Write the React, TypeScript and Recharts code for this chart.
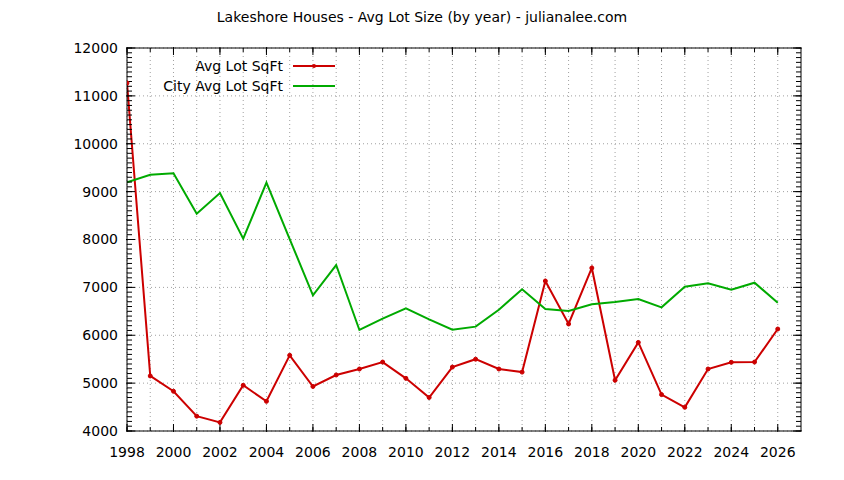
import React from "react";
import { LineChart, Line, XAxis, YAxis, CartesianGrid } from "recharts";

const years = [
  1998, 1999, 2000, 2001, 2002, 2003, 2004, 2005, 2006, 2007, 2008, 2009, 2010,
  2011, 2012, 2013, 2014, 2015, 2016, 2017, 2018, 2019, 2020, 2021, 2022, 2023,
  2024, 2025, 2026,
];
const avgLot = [
  11270, 5150, 4830, 4310, 4180, 4955, 4620, 5580, 4930, 5170, 5295, 5440, 5100,
  4700, 5335, 5500, 5295, 5230, 7133, 6235, 7405, 5060, 5850, 4760, 4495, 5295,
  5435, 5440, 6130,
];
const cityAvgLot = [
  9195, 9354, 9382, 8540, 8970, 8017, 9187, 8010, 6834, 7467, 6110, 6346, 6563,
  6333, 6116, 6180, 6534, 6960, 6548, 6506, 6646, 6694, 6757, 6583, 7015, 7084,
  6952, 7098, 6680,
];
const xMajorTicks = [
  1998, 2000, 2002, 2004, 2006, 2008, 2010, 2012, 2014, 2016, 2018, 2020, 2022,
  2024, 2026,
];
const xMinorTicks = years;
const yMajorTicks = [4000, 5000, 6000, 7000, 8000, 9000, 10000, 11000, 12000];
const yMinorTicks: number[] = [];
for (let v = 4000; v <= 12000; v += 100) yMinorTicks.push(v);

const seriesNames = ["Avg Lot SqFt", "City Avg Lot SqFt"];
const seriesColors = ["#cc0000", "#00aa00"];

const data = years.map((y, i) => ({
  year: y,
  avg: avgLot[i],
  city: cityAvgLot[i],
}));

const FONT = "'DejaVu Sans', sans-serif";
const X_DOMAIN: [number, number] = [1998, 2027];
const Y_DOMAIN: [number, number] = [4000, 12000];

const EmptyTick = () => <g />;

const LegendBox = () => (
  <svg width={260} height={44} style={{ display: "block" }}>
    {seriesNames.map((name, i) => (
      <g key={name}>
        <text
          x={156}
          y={8 + i * 20}
          textAnchor="end"
          dominantBaseline="central"
          fontFamily={FONT}
          fontSize={14}
          fill="#000"
        >
          {name}
        </text>
        <line
          x1={166}
          x2={208}
          y1={8 + i * 20}
          y2={8 + i * 20}
          stroke={seriesColors[i]}
          strokeWidth={2}
        />
        {i === 0 && <circle cx={187} cy={8} r={2} fill={seriesColors[0]} />}
      </g>
    ))}
  </svg>
);

export default function App() {
  const tickStyle = { fontFamily: FONT, fontSize: 14, fill: "#000" };
  const common = {
    type: "number" as const,
    allowDataOverflow: true,
    interval: 0 as const,
  };
  const TL = { stroke: "#000", strokeWidth: 1 };
  return (
    <div
      style={{
        position: "absolute",
        left: 0,
        top: 0,
        width: 844,
        height: 480,
        background: "#fff",
      }}
    >
      <div
        style={{
          position: "absolute",
          left: 0,
          top: 9,
          width: 844,
          textAlign: "center",
          fontFamily: FONT,
          fontSize: 14,
          color: "#000",
        }}
      >
        Lakeshore Houses - Avg Lot Size (by year) - julianalee.com
      </div>
      <LineChart
        width={844}
        height={480}
        data={data}
        margin={{ top: 46, right: 41, left: 0, bottom: 0 }}
        style={{ position: "absolute", left: 0, top: 0 }}
      >
        <CartesianGrid
          xAxisId="b_main"
          yAxisId="b_main"
          stroke="#a0a0a0"
          strokeDasharray="1 3"
          strokeWidth={1}
          horizontalValues={yMajorTicks}
          verticalValues={xMinorTicks}
        />
        <XAxis
          {...common}
          xAxisId="a_minor"
          dataKey="year"
          domain={X_DOMAIN}
          ticks={xMinorTicks}
          height={1}
          tickSize={-4}
          axisLine={{ stroke: "#000", strokeWidth: 1 }}
          tickLine={TL}
          tick={EmptyTick}
        />
        <XAxis
          {...common}
          xAxisId="b_main"
          dataKey="year"
          domain={X_DOMAIN}
          ticks={xMajorTicks}
          height={48}
          tickSize={-8}
          tickMargin={23}
          axisLine={false}
          tickLine={TL}
          tick={tickStyle}
        />
        <XAxis
          {...common}
          xAxisId="c_topMinor"
          orientation="top"
          dataKey="year"
          domain={X_DOMAIN}
          ticks={xMinorTicks}
          height={1}
          tickSize={-4}
          axisLine={{ stroke: "#000", strokeWidth: 1 }}
          tickLine={TL}
          tick={EmptyTick}
        />
        <XAxis
          {...common}
          xAxisId="d_top"
          orientation="top"
          dataKey="year"
          domain={X_DOMAIN}
          ticks={xMajorTicks}
          height={1}
          tickSize={-8}
          axisLine={false}
          tickLine={TL}
          tick={EmptyTick}
        />
        <YAxis
          {...common}
          yAxisId="a_minor"
          domain={Y_DOMAIN}
          ticks={yMinorTicks}
          width={1}
          tickSize={-5}
          axisLine={{ stroke: "#000", strokeWidth: 1 }}
          tickLine={TL}
          tick={EmptyTick}
        />
        <YAxis
          {...common}
          yAxisId="b_main"
          domain={Y_DOMAIN}
          ticks={yMajorTicks}
          width={126}
          tickSize={-9}
          tickMargin={17}
          axisLine={false}
          tickLine={TL}
          tick={tickStyle}
        />
        <YAxis
          {...common}
          yAxisId="c_rightMinor"
          orientation="right"
          domain={Y_DOMAIN}
          ticks={yMinorTicks}
          width={1}
          tickSize={-5}
          axisLine={{ stroke: "#000", strokeWidth: 1 }}
          tickLine={TL}
          tick={EmptyTick}
        />
        <YAxis
          {...common}
          yAxisId="d_right"
          orientation="right"
          domain={Y_DOMAIN}
          ticks={yMajorTicks}
          width={1}
          tickSize={-9}
          axisLine={false}
          tickLine={TL}
          tick={EmptyTick}
        />
        <Line
          xAxisId="a_minor"
          yAxisId="a_minor"
          type="linear"
          dataKey="avg"
          name={seriesNames[0]}
          stroke={seriesColors[0]}
          strokeWidth={2}
          dot={{ r: 2, fill: seriesColors[0], stroke: seriesColors[0], strokeWidth: 1 }}
          activeDot={false}
          isAnimationActive={false}
        />
        <Line
          xAxisId="a_minor"
          yAxisId="a_minor"
          type="linear"
          dataKey="city"
          name={seriesNames[1]}
          stroke={seriesColors[1]}
          strokeWidth={2}
          dot={false}
          activeDot={false}
          isAnimationActive={false}
        />
      </LineChart>
      <div style={{ position: "absolute", left: 127, top: 58 }}>
        <LegendBox />
      </div>
    </div>
  );
}
